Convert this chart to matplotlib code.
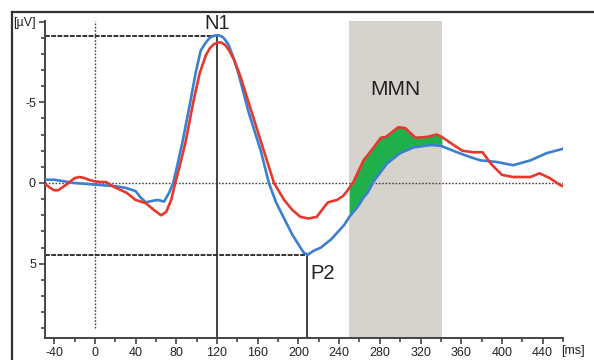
import matplotlib
matplotlib.use("Agg")
import matplotlib.pyplot as plt
import matplotlib.transforms as mtransforms
from matplotlib.lines import Line2D
import numpy as np

plt.rcParams['font.family'] = ['Liberation Sans', 'DejaVu Sans']

# ---- data (time in ms, amplitude in µV; negative plotted upward) ----
blue_t = [-48, -40, -30, -20, -10, 0, 10, 20, 30, 40, 45, 50, 57, 62, 68, 73, 77,
          81, 86, 94, 99, 104, 109, 113, 117, 121, 124, 127, 131, 136, 141, 146, 151, 157, 163,
          171, 178, 186, 194, 200, 205, 209, 215, 222, 232, 245, 250, 258, 264,
          268, 274, 287, 300, 313, 330, 340, 356, 369, 379, 395, 411, 428, 444, 462]
blue_v = [-0.2, -0.2, -0.1, 0.0, 0.05, 0.1, 0.15, 0.2, 0.3, 0.5, 0.9, 1.2, 1.1, 1.05, 1.15, 0.6, 0.0,
          -1.1, -2.5, -5.1, -6.8, -8.2, -8.7, -9.0, -9.12, -9.15, -9.1, -8.95, -8.6, -7.8, -6.8, -5.6, -4.4, -3.2, -2.0,
          0.0, 1.2, 2.2, 3.2, 3.8, 4.3, 4.45, 4.2, 4.0, 3.5, 2.6, 2.1, 1.5, 0.9,
          0.6, -0.1, -1.2, -1.85, -2.2, -2.35, -2.3, -1.9, -1.6, -1.4, -1.3, -1.1, -1.4, -1.85, -2.15]

red_t = [-48, -44, -40, -36, -28, -20, -15, -10, -6, 0, 6, 11, 19, 31, 40, 50, 58, 65, 70, 75, 79,
         84, 89, 97, 103, 109, 113, 117, 121, 124, 128, 132, 137, 143, 148, 155, 163, 170, 176, 186, 194, 202,
         210, 218, 224, 229, 238, 244, 249, 254, 264, 274, 281, 286, 292, 298, 305, 310, 315, 326,
         336, 341, 349, 361, 372, 381, 389, 400, 411, 428, 437, 447, 457, 462]
red_v = [0.1, 0.3, 0.45, 0.45, 0.1, -0.3, -0.37, -0.3, -0.2, -0.1, -0.06, -0.06, 0.25, 0.6, 1.05, 1.25, 1.67, 2.0, 1.8, 1.05, 0.0,
         -1.2, -2.5, -5.1, -6.8, -7.9, -8.35, -8.6, -8.7, -8.7, -8.55, -8.2, -7.6, -6.6, -5.6, -4.2, -2.6, -1.2, 0.0, 1.05, 1.67, 2.1,
         2.2, 2.1, 1.6, 1.2, 1.05, 0.8, 0.4, -0.06, -1.4, -2.2, -2.8, -2.85, -3.15, -3.45, -3.4, -3.1, -2.8, -2.85,
         -3.0, -2.85, -2.5, -2.0, -1.9, -1.9, -1.2, -0.5, -0.37, -0.37, -0.6, -0.3, 0.12, 0.25]

x_ticks = list(range(-40, 441, 40))
x_tick_labels = [str(v) for v in x_ticks]
y_ticks = [-10, -5, 0, 5]
y_tick_labels = ['[µV]', '-5', '0', '5']

mmn_window = (250, 341)
n1_peak = (120, -9.1)
p2_peak = (208, 4.45)

# ---- figure ----
fig = plt.figure(figsize=(5.94, 3.6), dpi=100)
ax = fig.add_axes([45/594, 1 - 338/360, (563-45)/594, (338-20.7)/360])

ax.set_xlim(-49, 460)
ax.set_ylim(9.6, -10.05)   # inverted: negative up

# MMN window
ax.axvspan(mmn_window[0], mmn_window[1], color='#d6d3cd', zorder=0, lw=0)

# reference lines
ax.axhline(0, color='#444444', lw=1.0, ls=(0, (1.2, 1.2)), zorder=1)
ax.axvline(0, ymin=0.03, color='#444444', lw=1.0, ls=(0, (1.2, 1.2)), zorder=1)
ax.plot([-49, n1_peak[0]], [n1_peak[1], n1_peak[1]], color='#333333', lw=1.4,
        ls=(0, (2.5, 0.7)), zorder=1)
ax.plot([n1_peak[0], n1_peak[0]], [n1_peak[1], 9.6], color='#333333', lw=1.3, zorder=1)
ax.plot([-49, p2_peak[0]], [p2_peak[1], p2_peak[1]], color='#333333', lw=1.4,
        ls=(0, (2.5, 0.7)), zorder=1)
ax.plot([p2_peak[0], p2_peak[0]], [p2_peak[1], 9.6], color='#333333', lw=1.3, zorder=1)

# green MMN difference fill
tt = np.linspace(mmn_window[0], mmn_window[1], 300)
bi = np.interp(tt, blue_t, blue_v)
ri = np.interp(tt, red_t, red_v)
ax.fill_between(tt, bi, ri, where=ri < bi, color='#1fb04c', lw=0, zorder=2)

# curves
ax.plot(blue_t, blue_v, color='#3c7fd0', lw=1.9, zorder=3, solid_joinstyle='round')
ax.plot(red_t, red_v, color='#e8382b', lw=1.9, zorder=4, solid_joinstyle='round')

# labels
ax.text(n1_peak[0], -9.85, 'N1', ha='center', va='center', fontsize=14.5, color='#222222',
        clip_on=False)
ax.text(212, 5.6, 'P2', ha='left', va='center', fontsize=14.5, color='#222222')
ax.text(295, -5.8, 'MMN', ha='center', va='center', fontsize=15, color='#222222')

# axes styling
for s in ['top', 'right']:
    ax.spines[s].set_visible(False)
for s in ['left', 'bottom']:
    ax.spines[s].set_color('#444444')
    ax.spines[s].set_linewidth(1.4)

ax.set_xticks(x_ticks)
ax.set_xticklabels(x_tick_labels)
ax.set_xticks(list(range(-40, 461, 20)), minor=True)
ax.set_yticks(y_ticks)
ax.set_yticklabels(y_tick_labels)
ax.set_yticks(list(range(-10, 10)), minor=True)
ax.tick_params(which='both', direction='out', color='#444444', width=1.2,
               labelsize=9, labelcolor='#222222')
ax.tick_params(which='major', length=4, pad=2.5)
ax.tick_params(which='minor', length=3)

trans = mtransforms.blended_transform_factory(ax.transData, ax.transAxes)
ax.text(470, -0.04, '[ms]', transform=trans, ha='center', va='center', fontsize=9,
        color='#222222', clip_on=False)

# figure frame (top and left)
fig.add_artist(Line2D([12/594, 1], [1 - 12/360, 1 - 12/360], transform=fig.transFigure,
                      color='#333333', lw=1.6))
fig.add_artist(Line2D([12/594, 12/594], [0, 1 - 12/360], transform=fig.transFigure,
                      color='#333333', lw=1.6))

fig.savefig('out.png', dpi=100)
